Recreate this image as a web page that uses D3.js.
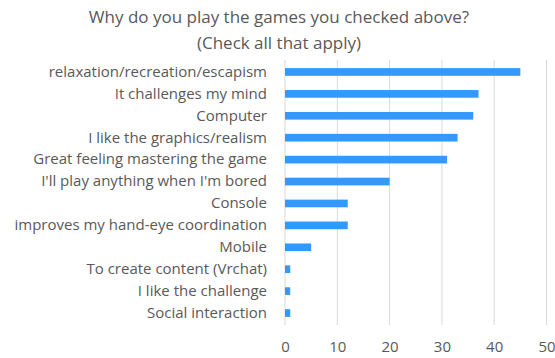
<!DOCTYPE html>
<html>
<head>
<meta charset="utf-8">
<script src="https://cdn.jsdelivr.net/npm/d3@7/dist/d3.min.js"></script>
<style>
  html, body { margin: 0; padding: 0; background: #fff; }
  svg { display: block; }
  text { font-family: "Open Sans", "Noto Sans", sans-serif; fill: #595959; }
</style>
</head>
<body>
<svg id="chart" width="555" height="358"></svg>
<script>
const categories = [
  "relaxation/recreation/escapism",
  "It challenges my mind",
  "Computer",
  "I like the graphics/realism",
  "Great feeling mastering the game",
  "I'll play anything when I'm bored",
  "Console",
  "improves my hand-eye coordination",
  "Mobile",
  "To create content (Vrchat)",
  "I like the challenge",
  "Social interaction"
];
const counts = [45, 37, 36, 33, 31, 20, 12, 12, 5, 1, 1, 1];
const xTicks = [0, 10, 20, 30, 40, 50];
const titleLines = ["Why do you play the games you checked above?", "(Check all that apply)"];

const svg = d3.select("#chart");
const margin = { left: 285, right: 8.5, top: 61, bottom: 34 };
const W = 555, H = 358;

const x = d3.scaleLinear().domain([0, 50]).range([margin.left, W - margin.right]);
const y = d3.scaleBand().domain(categories).range([margin.top, H - margin.bottom]).paddingInner(0.65).paddingOuter(0.325);

// title
svg.append("g").selectAll("text").data(titleLines).join("text")
  .attr("x", 279).attr("y", (d, i) => 23 + i * 25.5)
  .attr("text-anchor", "middle")
  .style("font-size", "17px")
  .text(d => d);

// vertical gridlines
svg.append("g").selectAll("line").data(xTicks).join("line")
  .attr("x1", d => x(d)).attr("x2", d => x(d))
  .attr("y1", margin.top - 1).attr("y2", H - margin.bottom + 1)
  .attr("stroke", "#d9d9d9").attr("stroke-width", 1);

// bars
svg.append("g").selectAll("rect").data(categories).join("rect")
  .attr("x", x(0))
  .attr("y", d => y(d))
  .attr("width", (d, i) => x(counts[i]) - x(0))
  .attr("height", y.bandwidth())
  .attr("fill", "#3399ff");

// category labels
const yAxis = d3.axisLeft(y).tickSize(0).tickPadding(0);
const gy = svg.append("g").attr("transform", `translate(${margin.left - 18},0)`).call(yAxis);
gy.select(".domain").remove();
gy.selectAll("text").style("font-size", "15px").attr("fill", "#595959");

// value axis
const xAxis = d3.axisBottom(x).tickValues(xTicks).tickSize(0).tickPadding(0);
const gx = svg.append("g").attr("transform", `translate(0,352)`).call(xAxis);
gx.select(".domain").remove();
gx.selectAll("text").attr("dy", 0).style("font-size", "15px").attr("fill", "#595959");
</script>
</body>
</html>
